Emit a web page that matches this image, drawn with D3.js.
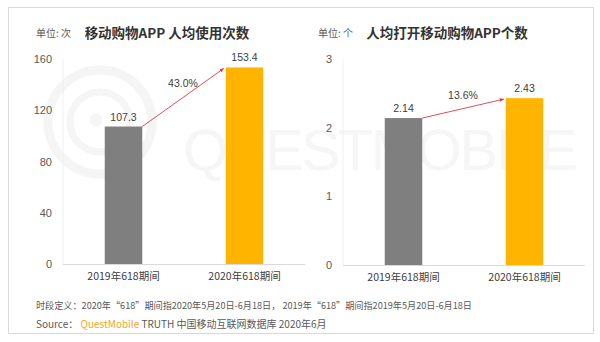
<!DOCTYPE html>
<html><head><meta charset="utf-8">
<script src="https://cdn.jsdelivr.net/npm/d3@7"></script>
<style>
body{margin:0;background:#fff;}
text{font-family:"Liberation Sans","Noto Sans CJK SC",Arial,sans-serif;}
.cjk{font-family:"Noto Sans CJK SC","Liberation Sans",sans-serif;}
</style></head>
<body>
<svg id="c" width="600" height="342"></svg>
<script>
const categories = ["2019年618期间", "2020年618期间"];
const usesValues = [107.3, 153.4];
const usesTicks = [0, 40, 80, 120, 160];
const usesGrowth = "43.0%";
const appsValues = [2.14, 2.43];
const appsTicks = [0, 1, 2, 3];
const appsGrowth = "13.6%";
const barColors = ["#7f7f7f", "#ffb400"];

const svg = d3.select("#c");
svg.append("rect").attr("x",8.5).attr("y",7.5).attr("width",585).attr("height",326)
  .attr("fill","#fff").attr("stroke","#d9d9d9");

// watermark (drawn faintly behind the charts)
const wm = svg.append("g").attr("fill","none").attr("stroke","#f5f5f5");
wm.append("circle").attr("cx",100).attr("cy",122).attr("r",52).attr("stroke-width",9);
wm.append("circle").attr("cx",100).attr("cy",122).attr("r",30).attr("stroke-width",7);
wm.append("circle").attr("cx",96).attr("cy",120).attr("r",6).attr("fill","#f5f5f5");
svg.append("text").attr("x",183).attr("y",170).attr("font-size",58)
  .attr("fill","#f6f6f6").attr("textLength",395).attr("lengthAdjust","spacing")
  .text("QUESTMOBILE");

svg.append("defs").append("marker").attr("id","ah").attr("viewBox","0 0 10 10")
  .attr("refX",9).attr("refY",5).attr("markerWidth",5).attr("markerHeight",5)
  .attr("orient","auto").append("path").attr("d","M0,1L10,5L0,9Z").attr("fill","#e03a4a");

function panel(cfg){
  const g = svg.append("g");
  const y = d3.scaleLinear().domain([0, cfg.ticks[cfg.ticks.length-1]]).range([cfg.y0, cfg.y1]);
  const x = d3.scaleBand().domain(categories).range([cfg.xl, cfg.xr]).paddingInner(cfg.pad).paddingOuter(cfg.pad/2);
  g.append("line").attr("x1",cfg.xl).attr("x2",cfg.xl).attr("y1",cfg.y1).attr("y2",cfg.y0)
    .attr("stroke","#f0f0f0");
  const ya = d3.axisLeft(y).tickValues(cfg.ticks).tickSize(0).tickPadding(11).tickFormat(d3.format("d"));
  const yg = g.append("g").attr("transform",`translate(${cfg.xl},0)`).call(ya);
  yg.select(".domain").remove();
  yg.selectAll("text").attr("font-size",11).attr("fill","#595959");
  const xa = d3.axisBottom(x).tickSize(0).tickPadding(9);
  const xg = g.append("g").attr("transform",`translate(0,${cfg.y0})`).call(xa);
  xg.select(".domain").attr("stroke","#d9d9d9").attr("d",`M${cfg.xl},0.5H${cfg.xr}`);
  xg.selectAll("text").attr("class","cjk").attr("font-size",10.5).attr("fill","#404040");
  g.selectAll("rect.bar").data(cfg.values).join("rect").attr("class","bar")
    .attr("x",(d,i)=>x(categories[i])).attr("width",x.bandwidth())
    .attr("y",d=>y(d)).attr("height",d=>y(0)-y(d)).attr("fill",(d,i)=>barColors[i]);
  g.selectAll("text.val").data(cfg.values).join("text").attr("class","val")
    .attr("x",(d,i)=>x(categories[i])+x.bandwidth()/2).attr("y",d=>y(d)-6)
    .attr("text-anchor","middle").attr("font-size",10.5).attr("fill","#404040")
    .text(d=>cfg.fmt(d));
  const x1 = x(categories[0])+x.bandwidth(), y1v = y(cfg.values[0]);
  const x2 = x(categories[1])-2, y2v = y(cfg.values[1])+1;
  g.append("line").attr("x1",x1).attr("y1",y1v).attr("x2",x2).attr("y2",y2v)
    .attr("stroke","#e03a4a").attr("stroke-width",0.9).attr("marker-end","url(#ah)");
  g.append("text").attr("x",(x1+x2)/2).attr("y",(y1v+y2v)/2-10).attr("text-anchor","middle")
    .attr("font-size",10.5).attr("fill","#404040").text(cfg.growth);
  g.append("text").attr("class","cjk").attr("x",cfg.unitX).attr("y",37).attr("font-size",10)
    .attr("fill","#595959").text(cfg.unit);
  g.append("text").attr("class","cjk").attr("x",cfg.titleX).attr("y",38).attr("text-anchor","middle")
    .attr("font-size",13.5).attr("font-weight","bold").attr("fill","#333").text(cfg.title);
}

panel({values:usesValues, ticks:usesTicks, growth:usesGrowth, y0:264, y1:59, xl:63, xr:305, pad:0.69,
  fmt:d3.format(".1f"), unit:"单位: 次", unitX:36, title:"移动购物APP 人均使用次数", titleX:167});
panel({values:appsValues, ticks:appsTicks, growth:appsGrowth, y0:265, y1:59, xl:343, xr:585, pad:0.69,
  fmt:d3.format(".2f"), unit:"单位: 个", unitX:318, title:"人均打开移动购物APP个数", titleX:447});

svg.append("text").attr("class","cjk").attr("x",36).attr("y",309).attr("font-size",9.5).attr("fill","#595959")
  .attr("textLength",436).attr("lengthAdjust","spacingAndGlyphs")
  .text("时段定义：2020年“618”期间指2020年5月20日-6月18日， 2019年“618”期间指2019年5月20日-6月18日");
const src = svg.append("text").attr("class","cjk").attr("x",36).attr("y",328).attr("font-size",10).attr("fill","#595959");
src.append("tspan").text("Source： ");
src.append("tspan").attr("fill","#f5a623").text("QuestMobile");
src.append("tspan").text(" TRUTH 中国移动互联网数据库 2020年6月");
</script>
</body></html>
